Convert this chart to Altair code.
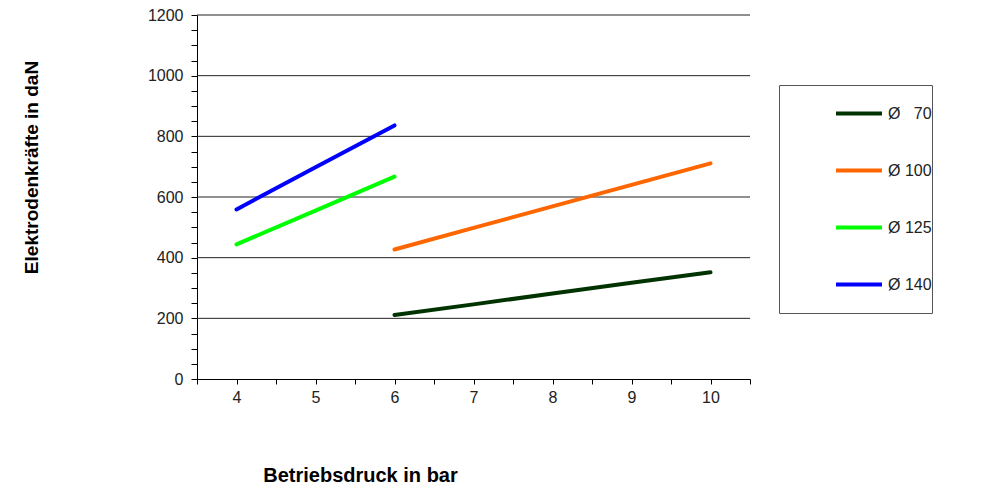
import altair as alt
import pandas as pd

# ---- data ----
pressure_small = [4, 5, 6]
pressure_large = [6, 7, 8, 9, 10]
force_70 = [211, 246, 282, 317, 352]
force_100 = [427, 498, 569, 640, 711]
force_125 = [444, 555, 667]
force_140 = [559, 698, 836]
series_labels = ["Ø\u00a0\u00a0\u00a070", "Ø 100", "Ø 125", "Ø 140"]
series_colors = ["#003300", "#FF6600", "#00FF00", "#0000FF"]
grid_values = [200, 400, 600, 800, 1000, 1200]
y_tick_values = list(range(0, 1201, 50))
x_tick_values = [3.5 + 0.5 * i for i in range(15)]

rows = []
for lab, xs, ys in [
    (series_labels[0], pressure_large, force_70),
    (series_labels[1], pressure_large, force_100),
    (series_labels[2], pressure_small, force_125),
    (series_labels[3], pressure_small, force_140),
]:
    for x, y in zip(xs, ys):
        rows.append({"Serie": lab, "Druck": x, "Kraft": y})
df = pd.DataFrame(rows)

FONT = "Liberation Sans"
y_scale = alt.Scale(domain=[0, 1200], nice=False, zero=True)
x_scale = alt.Scale(domain=[3.5, 10.5], nice=False, zero=False)

y_axis = alt.Axis(
    values=y_tick_values,
    labelExpr="datum.value % 200 == 0 ? format(datum.value, 'd') : ''",
    grid=False,
    tickSize=6,
    tickColor="#000000",
    domainColor="#000000",
    labelFont=FONT,
    labelFontSize=16,
    labelColor="#222222",
    labelPadding=8,
    labelFlush=False,
    title="Elektrodenkräfte in daN",
    titleFont=FONT,
    titleFontSize=19,
    titleFontWeight="bold",
    titleColor="#000000",
    titleAngle=270,
    titleX=-160,
    titleY=152,
    titleBaseline="alphabetic",
)

x_axis = alt.Axis(
    values=x_tick_values,
    labelExpr="datum.value % 1 == 0 ? format(datum.value, 'd') : ''",
    grid=False,
    tickSize=5,
    tickColor="#000000",
    domainColor="#000000",
    labelFont=FONT,
    labelFontSize=16,
    labelColor="#222222",
    labelPadding=5,
    labelFlush=False,
    title="Betriebsdruck in bar",
    titleFont=FONT,
    titleFontSize=20,
    titleFontWeight="bold",
    titleColor="#000000",
    titleX=163,
    titleY=102,
    titleBaseline="alphabetic",
)

grid = alt.Chart(pd.DataFrame({"g": grid_values})).mark_rule(
    color="#222222", strokeWidth=1
).encode(y=alt.Y("g:Q", scale=y_scale, axis=y_axis))

lines = alt.Chart(df).mark_line(strokeWidth=4, strokeCap="round", strokeJoin="round").encode(
    x=alt.X("Druck:Q", scale=x_scale, axis=x_axis),
    y=alt.Y("Kraft:Q", scale=y_scale, axis=y_axis),
    color=alt.Color(
        "Serie:N",
        scale=alt.Scale(domain=series_labels, range=series_colors),
        legend=alt.Legend(
            orient="none",
            legendX=582,
            legendY=70,
            title=None,
            symbolType="stroke",
            symbolSize=2116,
            symbolStrokeWidth=4,
            labelFont=FONT,
            labelFontSize=16,
            labelColor="#222222",
            labelOffset=4,
            clipHeight=57,
            rowPadding=0,
            padding=0,
            symbolOffset=55,
            strokeColor="#555555",
            fillColor="#ffffff",
        ),
    ),
)

chart = alt.layer(grid, lines).properties(
    width=553,
    height=364,
    autosize=alt.AutoSizeParams(type="none"),
    padding={"left": 189, "top": 7, "right": 226, "bottom": 105},
).configure_view(stroke=None)

chart.save("out.html", embed_options={"renderer": "svg", "actions": False})
